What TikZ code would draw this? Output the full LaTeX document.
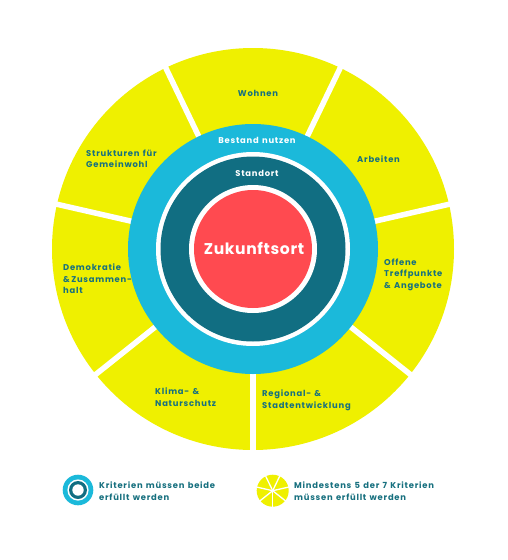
\documentclass[tikz,border=0pt]{standalone}
\usepackage{fontspec}
\setmainfont{Poppins}[LetterSpace=9,WordSpace=1.3]
\newfontfamily\bigfont{Poppins}[LetterSpace=4]
\definecolor{yel}{HTML}{EFF000}
\definecolor{blu}{HTML}{1BB9DA}
\definecolor{tea}{HTML}{116E82}
\definecolor{rd}{HTML}{FF4A50}
\definecolor{txt}{HTML}{17707F}
\tikzset{
  lbl/.style={inner sep=0pt, text=txt, align=left, font=\fontsize{8.4}{11.6}\selectfont\bfseries},
  wlbl/.style={inner sep=0pt, text=white, font=\fontsize{8.4}{11.6}\selectfont\bfseries},
  big/.style={inner sep=0pt, text=white, font=\bigfont\fontsize{15.6}{18}\selectfont\bfseries},
  gap/.style={white, line width=5.5pt},
  sgap/.style={white, line width=1.3pt}
}
\begin{document}
\begin{tikzpicture}[x=1pt,y=-1pt]
\useasboundingbox[fill=white] (0,0) rectangle (507,560);
\coordinate (c) at (253,249);
% outer yellow ring
\fill[yel] (c) circle[radius=201pt];
\foreach \a in {115.714,64.286,12.857,-38.571,-90,-141.429,167.143}
  \draw[gap] (c) -- ++(\a:205pt);
% inner circles
\fill[blu] (c) circle[radius=125pt];
\fill[white] (c) circle[radius=97pt];
\fill[tea] (c) circle[radius=92.5pt];
\fill[white] (c) circle[radius=64pt];
\fill[rd] (c) circle[radius=59pt];
% centre labels
\node[big] (zuk) at (254,248) {Zukunftsort};
\node[wlbl] (bestand) at (257,140) {Bestand nutzen};
\node[wlbl] (standort) at (257,173) {Standort};
% segment labels
\node[lbl] (wohnen) at (258,93) {Wohnen};
\node[lbl, anchor=north west] (struk) at (86,149.5) {Strukturen für\\Gemeinwohl};
\node[lbl, anchor=north west] (arbeiten) at (357,155.5) {Arbeiten};
\node[lbl, anchor=north west] (offene) at (384,258.5) {Offene\\Treffpunkte\\\& Angebote};
\node[lbl, anchor=north west] (demo) at (63,263.5) {Demokratie\\\&\,Zusammen-\\halt};
\node[lbl, anchor=north west] (klima) at (155,387.5) {Klima- \&\\Naturschutz};
\node[lbl, anchor=north west] (regional) at (262,389.5) {Regional- \&\\Stadtentwicklung};
% legend
\coordinate (l1) at (78,490);
\fill[blu] (l1) circle[radius=15.3pt];
\fill[white] (l1) circle[radius=10.6pt];
\fill[tea] (l1) circle[radius=9pt];
\fill[white] (l1) circle[radius=5.7pt];
\node[lbl, anchor=north west] (leg1) at (99,481.5) {Kriterien müssen beide\\erfüllt werden};
\coordinate (l2) at (272.7,490.7);
\fill[yel] (l2) circle[radius=16pt];
\foreach \a in {115.714,64.286,12.857,-38.571,-90,-141.429,167.143}
  \draw[sgap] (l2) -- ++(\a:17pt);
\node[lbl, anchor=north west] (leg2) at (294,481.5) {Mindestens 5 der 7 Kriterien\\müssen erfüllt werden};
\end{tikzpicture}
\end{document}
